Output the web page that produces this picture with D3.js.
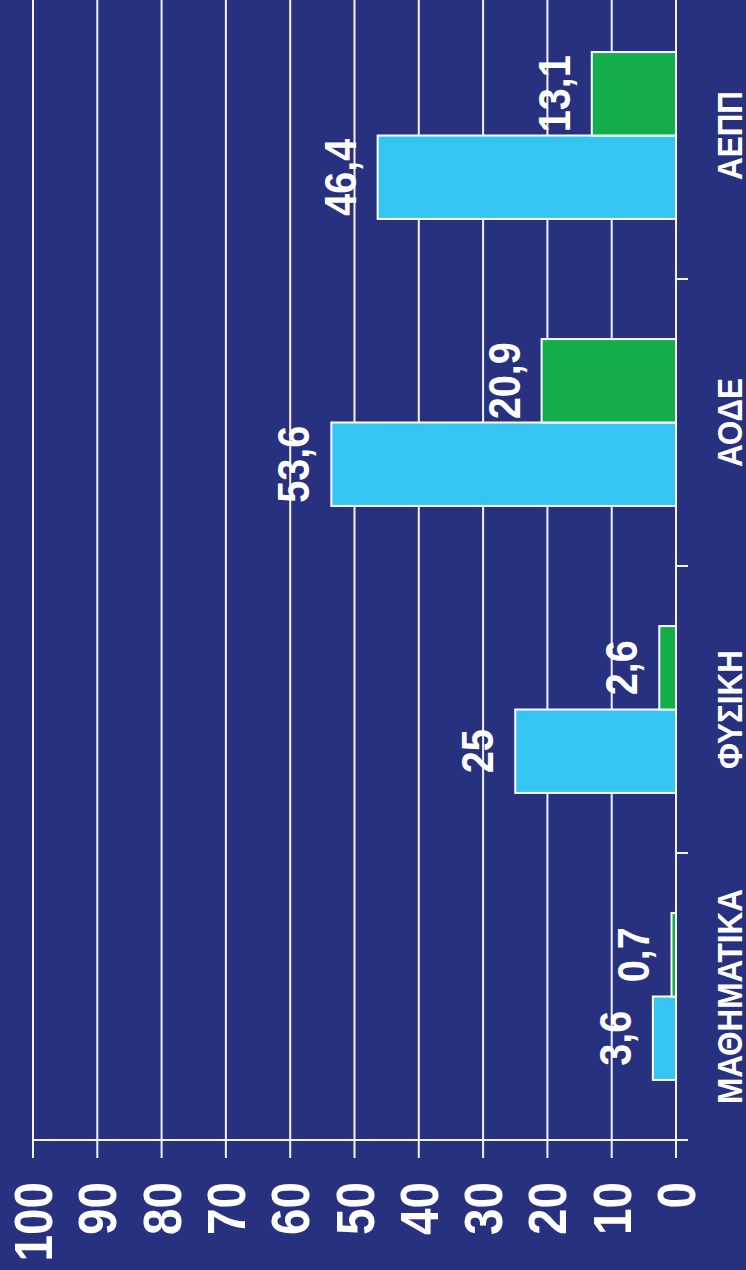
<!DOCTYPE html>
<html>
<head>
<meta charset="utf-8">
<script src="https://cdn.jsdelivr.net/npm/d3@7/dist/d3.min.js"></script>
<style>
  body { margin: 0; background: #283180; }
  svg { display: block; }
  text { font-family: "Liberation Sans", Arial, sans-serif; font-weight: bold; fill: #fff; }
</style>
</head>
<body>
<div id="chart"></div>
<script>
// data
var categories = ['ΜΑΘΗΜΑΤΙΚΑ', 'ΦΥΣΙΚΗ', 'ΑΟΔΕ', 'ΑΕΠΠ'];
var series = ['blue', 'green'];
var blueValues = [3.6, 25, 53.6, 46.4];
var greenValues = [0.7, 2.6, 20.9, 13.1];
var valueTicks = [0, 10, 20, 30, 40, 50, 60, 70, 80, 90, 100];

var W = 746, H = 1270;
// chart is drawn upright in a frame of H x W, then turned a quarter left
var fw = H;
var m = { l: 130, r: 1278, b: 676, t: 33 };
var colors = { blue: '#35c5f3', green: '#13ad4a' };

var svg = d3.select('#chart').append('svg')
    .attr('width', W)
    .attr('height', H);

svg.append('rect').attr('width', W).attr('height', H).attr('fill', '#283180');

var g = svg.append('g').attr('transform', 'translate(0,' + H + ') rotate(-90)');

var x = d3.scaleBand().domain(categories).range([m.l, m.r]);
var xs = d3.scaleBand().domain(series).range([0, x.bandwidth()])
    .paddingInner(0).paddingOuter(0.72);
var y = d3.scaleLinear().domain([0, 100]).range([m.b, m.t]);

var rows = categories.map(function(c, i) {
    return { cat: c, vals: [
        { s: 'blue', v: blueValues[i] },
        { s: 'green', v: greenValues[i] }
    ] };
});

function comma(v) { return String(v).replace('.', ','); }
function squeeze(tx, ty) { return 'translate(' + tx + ',' + ty + ') scale(0.9,1)'; }

// grid lines, with their little tick below the axis
g.append('g').selectAll('line')
    .data(valueTicks)
    .join('line')
    .attr('x1', m.l - 18)
    .attr('x2', fw)
    .attr('y1', function(d) { return y(d); })
    .attr('y2', function(d) { return y(d); })
    .attr('stroke', '#f2f2f2')
    .attr('stroke-width', 2);

// bars
var grp = g.append('g').selectAll('g')
    .data(rows)
    .join('g')
    .attr('transform', function(d) { return 'translate(' + x(d.cat) + ',0)'; });

grp.selectAll('rect')
    .data(function(d) { return d.vals; })
    .join('rect')
    .attr('x', function(d) { return xs(d.s); })
    .attr('width', xs.bandwidth())
    .attr('y', function(d) { return y(d.v); })
    .attr('height', function(d) { return y(0) - y(d.v); })
    .attr('fill', function(d) { return colors[d.s]; })
    .attr('stroke', '#fff')
    .attr('stroke-width', 2);

grp.selectAll('text')
    .data(function(d) { return d.vals; })
    .join('text')
    .attr('transform', function(d) { return squeeze(xs(d.s) + xs.bandwidth() / 2, y(d.v) - 22); })
    .attr('text-anchor', 'middle')
    .style('font-size', '44px')
    .text(function(d) { return comma(d.v); });

// value axis line (screen: horizontal at the bottom)
g.append('line')
    .attr('x1', m.l).attr('x2', m.l)
    .attr('y1', m.t).attr('y2', m.b + 12)
    .attr('stroke', '#f2f2f2')
    .attr('stroke-width', 2);

// category ticks between bands
g.append('g').selectAll('line')
    .data(categories.slice(1))
    .join('line')
    .attr('x1', function(d) { return x(d); })
    .attr('x2', function(d) { return x(d); })
    .attr('y1', m.b)
    .attr('y2', m.b + 12)
    .attr('stroke', '#f2f2f2')
    .attr('stroke-width', 2);

// value tick labels
g.append('g').selectAll('text')
    .data(valueTicks)
    .join('text')
    .attr('transform', function(d) { return squeeze(m.l - 42, y(d)); })
    .attr('dy', '0.36em')
    .attr('text-anchor', 'end')
    .style('font-size', '53px')
    .text(function(d) { return d; });

// category labels
g.append('g').selectAll('text')
    .data(categories)
    .join('text')
    .attr('transform', function(d) { return squeeze(x(d) + x.bandwidth() / 2, 742); })
    .attr('text-anchor', 'middle')
    .style('font-size', '35px')
    .text(function(d) { return d; });
</script>
</body>
</html>
